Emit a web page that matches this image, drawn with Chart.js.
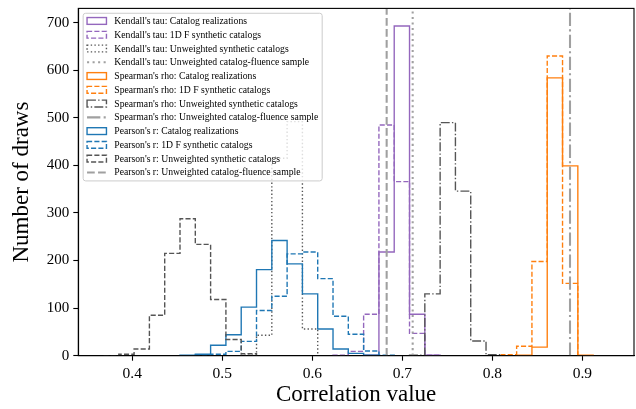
<!DOCTYPE html>
<html><head><meta charset="utf-8">
<script src="https://cdn.jsdelivr.net/npm/chart.js@4.4.1/dist/chart.umd.min.js"></script>
<style>html,body{margin:0;padding:0;background:#fff;}#wrap{width:636px;height:409px;}</style>
</head><body><div id="wrap"><canvas id="c" width="636" height="409"></canvas></div>
<script>
// ---- data ----
const BIN_EDGES = [0.368, 0.385, 0.402, 0.419, 0.436, 0.453, 0.470, 0.487, 0.504, 0.521, 0.538,
  0.555, 0.572, 0.589, 0.606, 0.623, 0.640, 0.657, 0.674, 0.691, 0.708, 0.725, 0.742, 0.759,
  0.776, 0.793, 0.810, 0.827, 0.844, 0.861, 0.878, 0.895, 0.912, 0.929];

const KENDALL_CATALOG_FIRST_BIN = 17;
const KENDALL_CATALOG = [1, 218, 693, 87, 1];
const KENDALL_1DF_FIRST_BIN = 15;
const KENDALL_1DF = [1, 9, 87, 485, 366, 47, 1];
const KENDALL_UNWEIGHTED_FIRST_BIN = 9;
const KENDALL_UNWEIGHTED = [1, 43, 415, 492, 56];
const KENDALL_FLUENCE_SAMPLE = 0.7115;

const SPEARMAN_CATALOG_FIRST_BIN = 27;
const SPEARMAN_CATALOG = [1, 18, 584, 399, 1];
const SPEARMAN_1DF_FIRST_BIN = 26;
const SPEARMAN_1DF = [2, 20, 198, 630, 152];
const SPEARMAN_UNWEIGHTED_FIRST_BIN = 20;
const SPEARMAN_UNWEIGHTED = [1, 130, 490, 346, 31, 2];
const SPEARMAN_FLUENCE_SAMPLE = 0.8863;

const PEARSON_CATALOG_FIRST_BIN = 5;
const PEARSON_CATALOG = [1, 3, 22, 44, 102, 181, 242, 193, 130, 56, 14, 5, 1];
const PEARSON_1DF_FIRST_BIN = 6;
const PEARSON_1DF = [1, 3, 9, 30, 95, 125, 214, 218, 162, 83, 45, 10, 1];
const PEARSON_UNWEIGHTED_FIRST_BIN = 0;
const PEARSON_UNWEIGHTED = [0, 3, 14, 85, 215, 288, 234, 118, 34, 4];
const PEARSON_FLUENCE_SAMPLE = 0.6826;

const X_TICKS = [0.4, 0.5, 0.6, 0.7, 0.8, 0.9];
const Y_TICKS = [0, 100, 200, 300, 400, 500, 600, 700];
const X_MIN = 0.34, X_MAX = 0.9574, Y_MIN = 0, Y_MAX = 730;

// ---- styles ----
const C_PURPLE = '#9467bd', C_ORANGE = '#ff7f0e', C_BLUE = '#1f77b4';
const C_HIST_GRAY = '#555555', C_VLINE_GRAY = '#a0a0a0';
const HIST_LW = 1.39, VLINE_LW = 2.08;
const D_HIST_DASH = [5.1, 2.2], D_HIST_DOT = [1.39, 2.29], D_HIST_DASHDOT = [8.9, 2.2, 1.39, 2.2];
const D_V_DASH = [7.7, 3.3], D_V_DOT = [2.08, 3.44], D_V_DASHDOT = [13.3, 3.3, 2.08, 3.3];

function stepPoints(firstBin, counts) {
  const pts = [{x: BIN_EDGES[firstBin], y: 0}];
  counts.forEach((c, i) => pts.push({x: BIN_EDGES[firstBin + i], y: c}));
  pts.push({x: BIN_EDGES[firstBin + counts.length], y: 0});
  return pts;
}
let creation = 0;
function hist(label, firstBin, counts, color, dash) {
  const c = creation++;
  return {label, kind: 'hist', data: stepPoints(firstBin, counts), borderColor: color,
    backgroundColor: 'rgba(0,0,0,0)', borderWidth: HIST_LW, borderDash: dash, stepped: 'before',
    pointRadius: 0, fill: false, tension: 0, order: 100 - c, legendIndex: c};
}
function vline(label, value, dash) {
  const c = creation++;
  return {label, kind: 'vline', data: [{x: value, y: Y_MIN}, {x: value, y: Y_MAX}], borderColor: C_VLINE_GRAY,
    backgroundColor: 'rgba(0,0,0,0)', borderWidth: VLINE_LW, borderDash: dash,
    pointRadius: 0, fill: false, tension: 0, order: 50 - c, legendIndex: c};
}

const datasets = [
  hist("Kendall's tau: Catalog realizations", KENDALL_CATALOG_FIRST_BIN, KENDALL_CATALOG, C_PURPLE, []),
  hist("Kendall's tau: 1D F synthetic catalogs", KENDALL_1DF_FIRST_BIN, KENDALL_1DF, C_PURPLE, D_HIST_DASH),
  hist("Kendall's tau: Unweighted synthetic catalogs", KENDALL_UNWEIGHTED_FIRST_BIN, KENDALL_UNWEIGHTED, C_HIST_GRAY, D_HIST_DOT),
  vline("Kendall's tau: Unweighted catalog-fluence sample", KENDALL_FLUENCE_SAMPLE, D_V_DOT),
  hist("Spearman's rho: Catalog realizations", SPEARMAN_CATALOG_FIRST_BIN, SPEARMAN_CATALOG, C_ORANGE, []),
  hist("Spearman's rho: 1D F synthetic catalogs", SPEARMAN_1DF_FIRST_BIN, SPEARMAN_1DF, C_ORANGE, D_HIST_DASH),
  hist("Spearman's rho: Unweighted synthetic catalogs", SPEARMAN_UNWEIGHTED_FIRST_BIN, SPEARMAN_UNWEIGHTED, C_HIST_GRAY, D_HIST_DASHDOT),
  vline("Spearman's rho: Unweighted catalog-fluence sample", SPEARMAN_FLUENCE_SAMPLE, D_V_DASHDOT),
  hist("Pearson's r: Catalog realizations", PEARSON_CATALOG_FIRST_BIN, PEARSON_CATALOG, C_BLUE, []),
  hist("Pearson's r: 1D F synthetic catalogs", PEARSON_1DF_FIRST_BIN, PEARSON_1DF, C_BLUE, D_HIST_DASH),
  hist("Pearson's r: Unweighted synthetic catalogs", PEARSON_UNWEIGHTED_FIRST_BIN, PEARSON_UNWEIGHTED, C_HIST_GRAY, D_HIST_DASH),
  vline("Pearson's r: Unweighted catalog-fluence sample", PEARSON_FLUENCE_SAMPLE, D_V_DASH)
];

const FONT = 'Liberation Serif';

const framePlugin = {
  id: 'frameAndLegend',
  afterDatasetsDraw(chart) {
    const ctx = chart.ctx, a = chart.chartArea;
    ctx.save();
    ctx.setLineDash([]);
    ctx.lineWidth = 1.1; ctx.strokeStyle = '#000';
    ctx.strokeRect(a.left, a.top, a.right - a.left, a.bottom - a.top);

    // legend (matplotlib-like, upper left)
    const fs = 9.7;
    ctx.font = fs + 'px "' + FONT + '"';
    const items = chart.data.datasets.slice().sort((p, q) => p.legendIndex - q.legendIndex);
    let maxW = 0;
    items.forEach(d => { maxW = Math.max(maxW, ctx.measureText(d.label).width); });
    const fx = a.left + 4.85, fy = a.top + 4.85;
    const pad = 3.9, handleW = 19.4, textGap = 7.8, pitch = 13.77, firstRow = 7.7;
    const fw = pad + handleW + textGap + maxW + pad;
    const fh = firstRow + pitch * (items.length - 1) + 8.5;
    const r = 2.5;
    ctx.beginPath();
    ctx.moveTo(fx + r, fy);
    ctx.lineTo(fx + fw - r, fy); ctx.arcTo(fx + fw, fy, fx + fw, fy + r, r);
    ctx.lineTo(fx + fw, fy + fh - r); ctx.arcTo(fx + fw, fy + fh, fx + fw - r, fy + fh, r);
    ctx.lineTo(fx + r, fy + fh); ctx.arcTo(fx, fy + fh, fx, fy + fh - r, r);
    ctx.lineTo(fx, fy + r); ctx.arcTo(fx, fy, fx + r, fy, r);
    ctx.closePath();
    ctx.fillStyle = 'rgba(255,255,255,0.8)'; ctx.fill();
    ctx.lineWidth = 1; ctx.strokeStyle = '#cccccc'; ctx.stroke();

    const hx = fx + pad;
    items.forEach((d, i) => {
      const cy = fy + firstRow + pitch * i;
      ctx.strokeStyle = d.borderColor;
      ctx.setLineDash(d.borderDash || []);
      ctx.lineWidth = d.borderWidth;
      if (d.kind === 'hist') {
        ctx.strokeRect(hx, cy - 3.4, handleW, 6.8);
      } else {
        ctx.beginPath(); ctx.moveTo(hx, cy); ctx.lineTo(hx + handleW, cy); ctx.stroke();
      }
      ctx.setLineDash([]);
      ctx.fillStyle = '#000'; ctx.textBaseline = 'middle'; ctx.textAlign = 'left';
      ctx.fillText(d.label, hx + handleW + textGap, cy + 0.5);
    });
    ctx.restore();
  }
};

new Chart(document.getElementById('c'), {
  type: 'line',
  data: {datasets},
  options: {
    responsive: false, animation: false, devicePixelRatio: 1,
    layout: {padding: {left: 0, right: 2, top: 8.4, bottom: 0}},
    plugins: {legend: {display: false}, tooltip: {enabled: false}},
    elements: {line: {borderCapStyle: 'butt', borderJoinStyle: 'miter'}},
    scales: {
      x: {
        type: 'linear', min: X_MIN, max: X_MAX,
        afterFit(s) { s.height = 53.3; s.paddingLeft = 0; s.paddingRight = 0; },
        afterBuildTicks(s) { s.ticks = X_TICKS.map(v => ({value: v})); },
        ticks: {autoSkip: false, maxRotation: 0, padding: 4, color: '#000',
          font: {family: FONT, size: 15.5}, callback: v => Number(v).toFixed(1)},
        grid: {display: true, drawOnChartArea: false, drawTicks: true, tickLength: 5, tickWidth: 1.1, tickColor: '#000'},
        border: {display: true, color: '#000', width: 1.1},
        title: {display: true, text: 'Correlation value', color: '#000', font: {family: FONT, size: 23}, padding: {top: 0, bottom: 0}}
      },
      y: {
        type: 'linear', min: Y_MIN, max: Y_MAX,
        afterFit(s) { s.width = 78.3; s.paddingTop = 0; s.paddingBottom = 0; },
        afterBuildTicks(s) { s.ticks = Y_TICKS.map(v => ({value: v})); },
        ticks: {autoSkip: false, padding: 4, color: '#000', font: {family: FONT, size: 15}},
        grid: {display: true, drawOnChartArea: false, drawTicks: true, tickLength: 5, tickWidth: 1.1, tickColor: '#000'},
        border: {display: true, color: '#000', width: 1.1},
        title: {display: true, text: 'Number of draws', color: '#000', font: {family: FONT, size: 23}, padding: {top: 8.5, bottom: 0}}
      }
    }
  },
  plugins: [framePlugin]
});
</script></body></html>
